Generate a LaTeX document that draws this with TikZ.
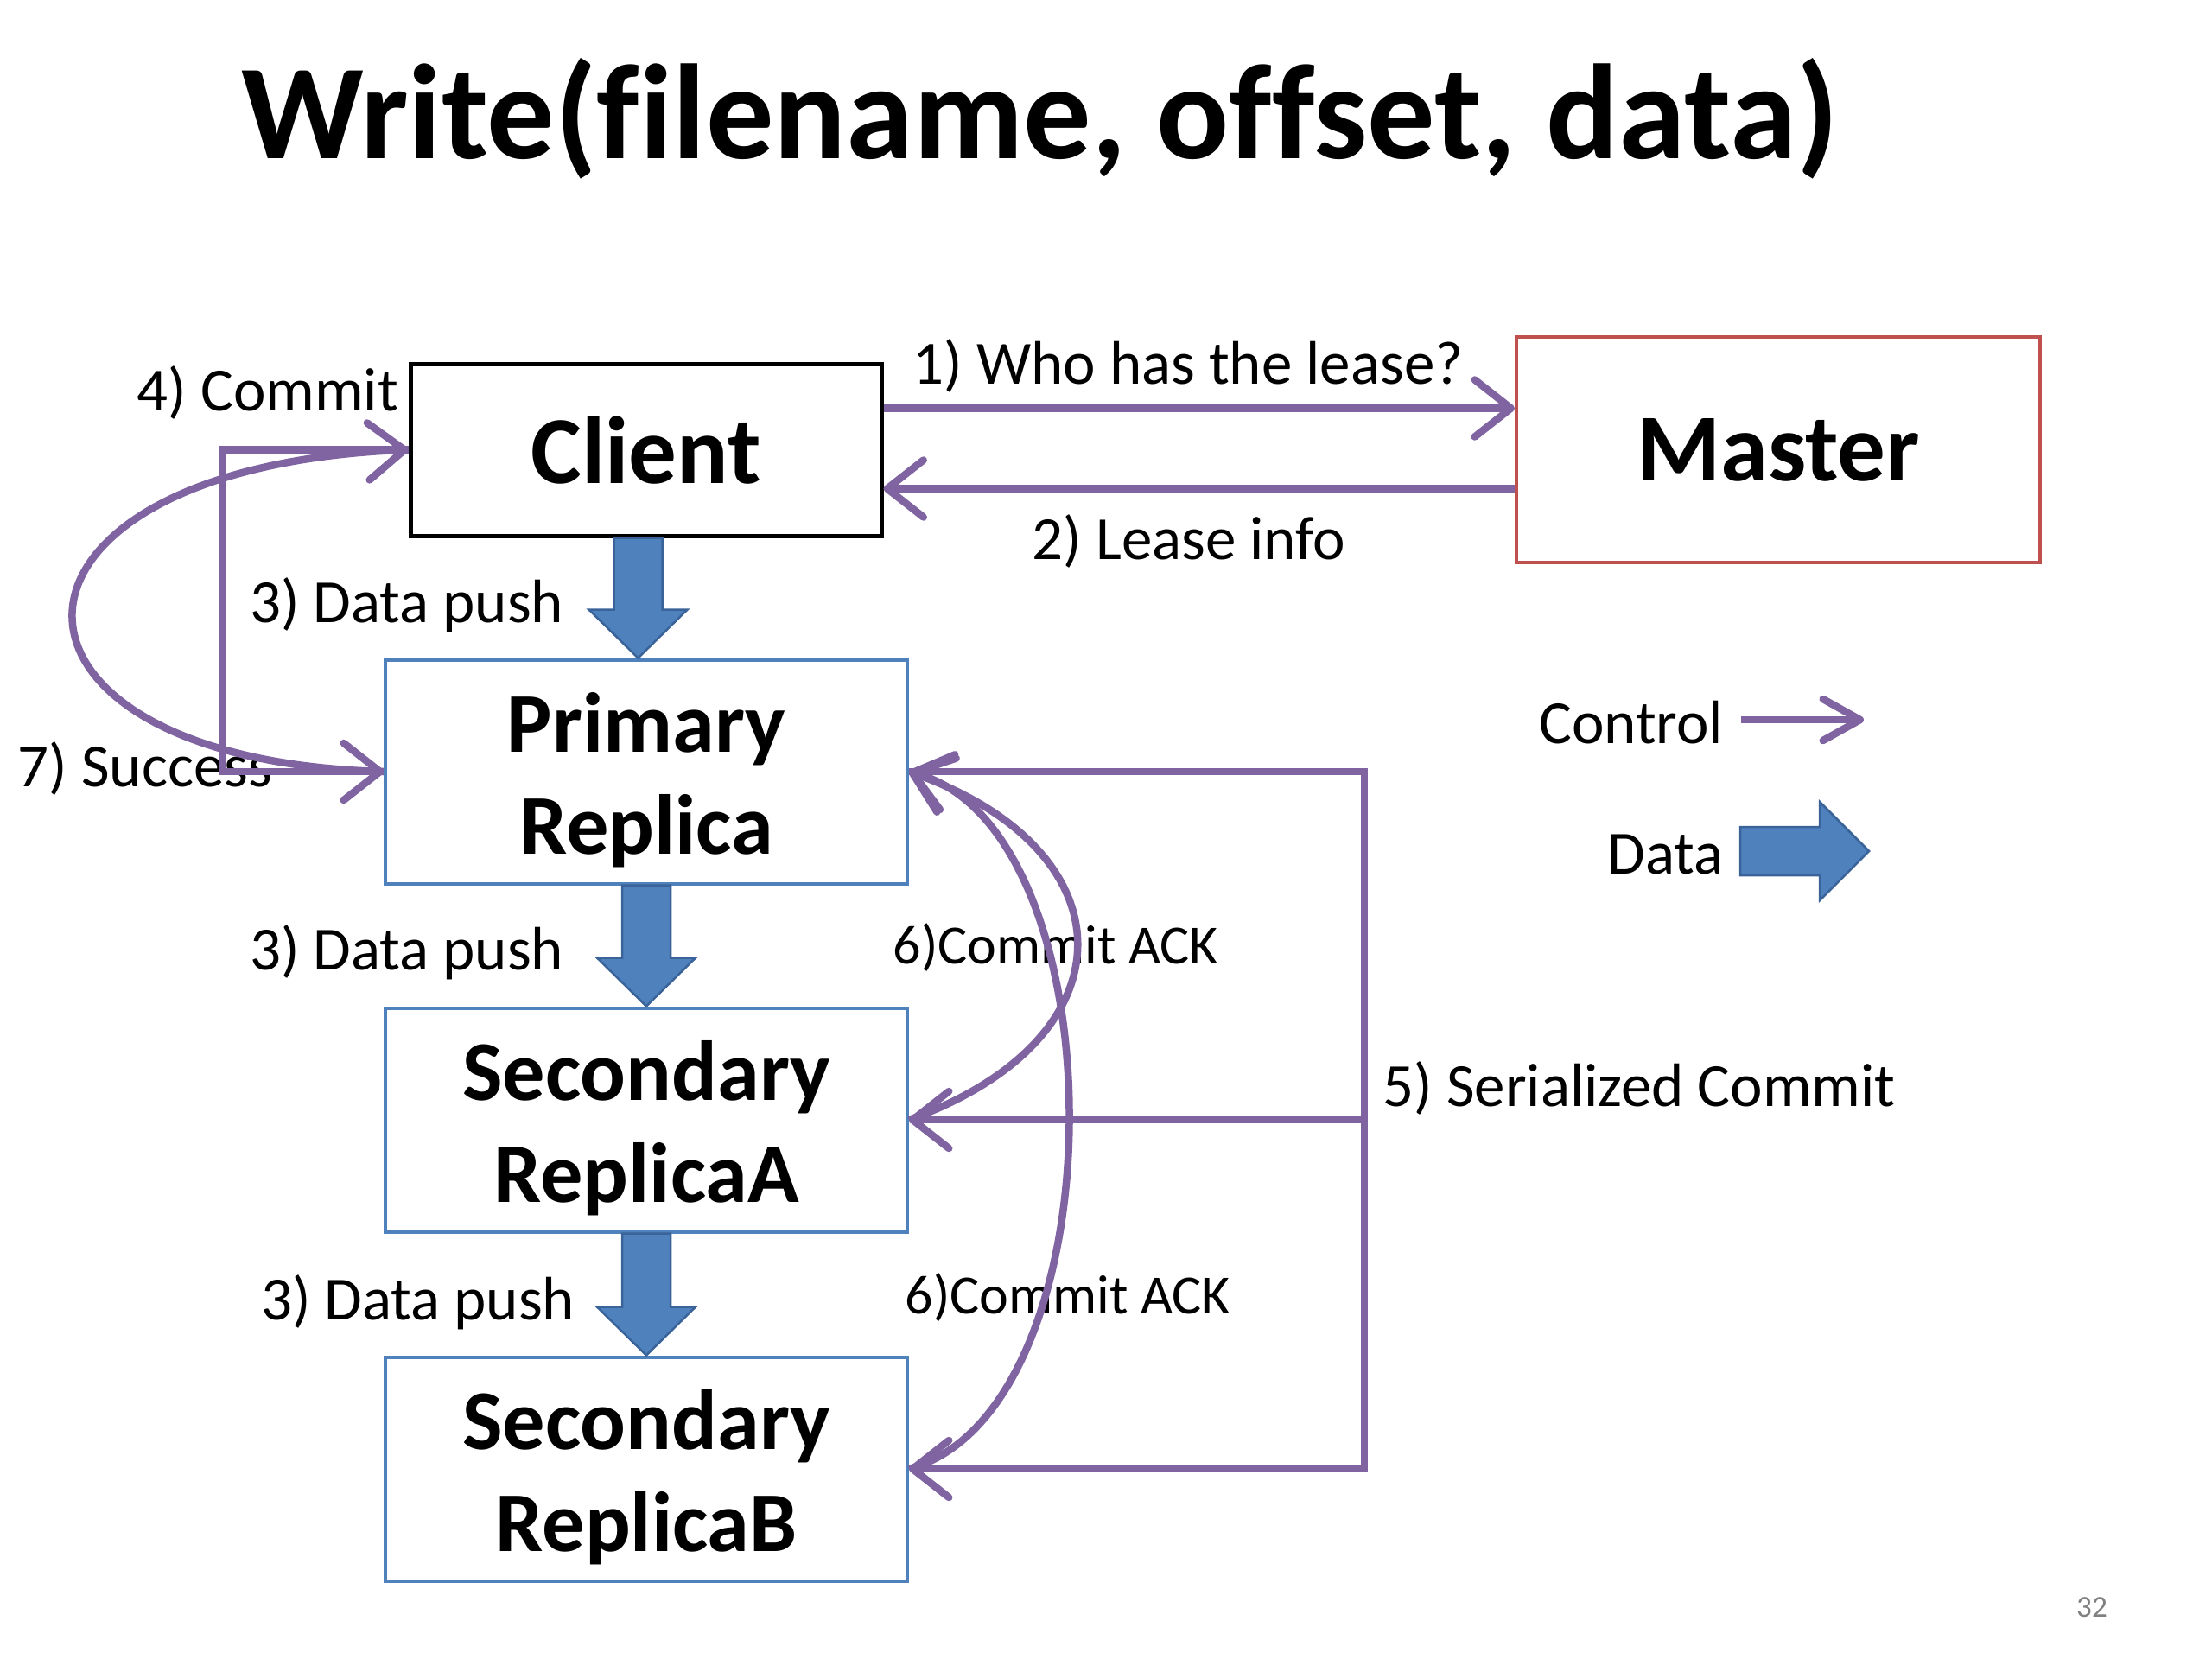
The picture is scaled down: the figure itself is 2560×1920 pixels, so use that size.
\documentclass[tikz,border=0pt]{standalone}
\usepackage{fontspec}
\setmainfont{Carlito}[Ligatures=NoCommon]
\usetikzlibrary{arrows.meta,calc}
\definecolor{ctrlpurple}{HTML}{8064A2}
\definecolor{boxblue}{HTML}{4F81BD}
\definecolor{boxred}{HTML}{C0504D}
\definecolor{arrowedge}{HTML}{3A639A}
\newcommand\vdataarrow[2]{%
  \filldraw[dataarrow] ($(#1)+(-28,0)$) -- ($(#1)+(28,0)$) -- ($(#2)+(28,-56)$) -- ($(#2)+(57,-56)$) -- (#2) -- ($(#2)+(-57,-56)$) -- ($(#2)+(-28,-56)$) -- cycle;}
\newcommand\hdataarrow[2]{%
  \filldraw[dataarrow] ($(#1)+(0,-28)$) -- ($(#2)+(-57,-28)$) -- ($(#2)+(-57,-57)$) -- (#2) -- ($(#2)+(-57,57)$) -- ($(#2)+(-57,28)$) -- ($(#1)+(0,28)$) -- cycle;}
\begin{document}
\begin{tikzpicture}[x=0.1mm,y=-0.1mm,
  ctrl/.style={draw=ctrlpurple, line width=0.85mm, -{Straight Barb[length=4.2mm,width=6.6mm,round]}},
  dataarrow/.style={fill=boxblue, draw=arrowedge, line width=0.25mm, line join=miter},
  clientbox/.style={draw=black, line width=0.5mm, minimum width=54.5mm, minimum height=19.9mm, inner sep=0pt, font=\fontsize{31.6}{36}\selectfont\bfseries},
  masterbox/.style={draw=boxred, line width=0.4mm, minimum width=60.6mm, minimum height=26.1mm, inner sep=0pt, font=\fontsize{31.6}{36}\selectfont\bfseries},
  replica/.style={draw=boxblue, line width=0.4mm, minimum width=60.4mm, minimum height=25.9mm, inner sep=0pt},
  replicatext/.style={inner sep=0pt, yshift=-1mm, align=center, font=\fontsize{28}{33.5}\selectfont\bfseries},
  lbl/.style={inner sep=0pt, font=\fontsize{20.2}{24}\selectfont},
  acklbl/.style={inner sep=0pt, font=\fontsize{18.2}{22}\selectfont}]
\fill[white] (0,0) rectangle (2560,1920);
\useasboundingbox (0,0) rectangle (2560,1920);

% title
\node[anchor=base, inner sep=0pt, font=\fontsize{44.5}{50}\selectfont\bfseries] (title) at (1204,183) {Write(filename, offset, data)};

% boxes
\node[clientbox] (client) at (747.5,520.5) {Client};
\node[masterbox] (master) at (2058,520.5) {Master};
\node[replica, label={[replicatext]center:Primary\\Replica}] (primary) at (748,893) {};
\node[replica, label={[replicatext]center:Secondary\\ReplicaA}] (secA) at (748,1296) {};
\node[replica, label={[replicatext]center:Secondary\\ReplicaB}] (secB) at (748,1700) {};

% labels
\node[lbl, anchor=base west] (l4) at (158,475) {4) Commit};
\node[lbl, anchor=base] (l1) at (1375,444) {1) Who has the lease?};
\node[lbl, anchor=base] (l2) at (1376,647) {2) Lease info};
\node[lbl, anchor=base east] (l3a) at (653,720) {3) Data push};
\node[lbl, anchor=base east] (l3b) at (653,1122) {3) Data push};
\node[lbl, anchor=base east] (l3c) at (666,1527) {3) Data push};
\node[lbl, anchor=base west] (l7) at (20,910) {7) Success};
\node[lbl, anchor=base east] (lctrl) at (1995,860) {Control};
\node[lbl, anchor=base east] (ldata) at (1995,1011) {Data};
\node[lbl, anchor=base west] (l5) at (1600,1280) {5) Serialized Commit};
\node[acklbl, anchor=base west] (l6a) at (1033,1115) {6)Commit ACK};
\node[acklbl, anchor=base west] (l6b) at (1047,1520) {6)Commit ACK};
\node[anchor=base, inner sep=0pt, font=\fontsize{10}{12}\selectfont, text=gray] (pg) at (2421,1871) {32};

% data arrows
\coordinate (d1s) at ($(client.south)+(-9,0)$);
\coordinate (d1e) at (d1s |- primary.north);
\vdataarrow{d1s}{d1e}
\vdataarrow{primary.south}{secA.north}
\vdataarrow{secA.south}{secB.north}

% control arrows
\draw[ctrl] ([yshift=4.8mm]client.east) -- ([yshift=4.8mm]master.west);
\draw[ctrl] ([yshift=-4.5mm]master.west) -- ([yshift=-4.5mm]client.east);

\coordinate (cx) at (258,0);
\draw[ctrl] (client.west) -- (cx |- client.west) |- (primary.west);
\draw[ctrl] (primary.west) .. controls (-40,880) and (-40,542) .. (client.west);

\coordinate (s5) at (1579,893);
\draw[ctrl] (primary.east) -- (s5 |- primary.east) |- (secB.east);
\draw[ctrl] (s5 |- secA.east) -- (secA.east);

\draw[ctrl] (secA.east) .. controls (1311,1203) and (1311,986) .. (primary.east);
\draw[ctrl] (secB.east) .. controls (1298,1633) and (1298,960) .. (primary.east);

% legend
\coordinate (cA) at (2015,833);
\coordinate (cB) at (2157,833);
\draw[ctrl, -{Straight Barb[length=4.3mm,width=4.8mm,round]}] (cA) -- (cB);
\coordinate (dA) at (2014,985);
\coordinate (dB) at (2163,985);
\hdataarrow{dA}{dB}
\end{tikzpicture}
\end{document}
